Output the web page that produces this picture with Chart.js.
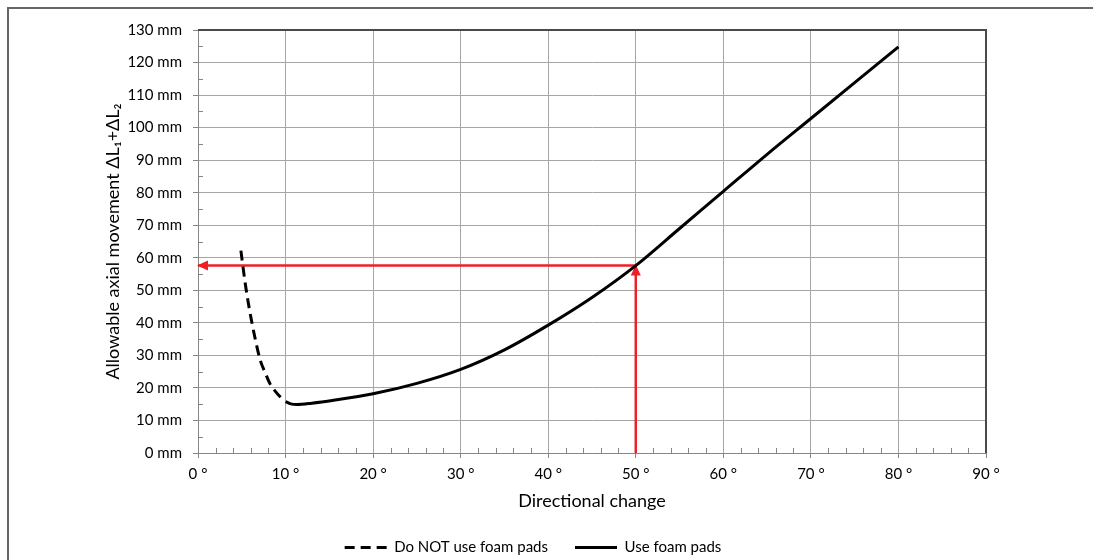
<!DOCTYPE html>
<html>
<head>
<meta charset="utf-8">
<title>Allowable axial movement</title>
<script src="https://cdn.jsdelivr.net/npm/chart.js@4.4.1/dist/chart.umd.min.js"></script>
<style>
  html, body { margin: 0; padding: 0; background: #fff; }
</style>
</head>
<body>
<canvas id="chart" width="1093" height="560"></canvas>
<script>
// Directional change (deg) against allowable axial movement (mm)
const noPadDeg = [4.9, 5.4, 5.95, 6.5, 7.1, 7.7, 8.2, 9.0, 9.75];
const noPadMm  = [62.2, 52, 43, 35.5, 28.6, 24.5, 21.4, 18.4, 16.3];

const padDeg = [10, 10.6, 11.3, 13, 15.5, 20, 25, 30, 35, 40, 45, 50, 55, 60, 65, 70, 75, 80];
const padMm  = [15.8, 15.1, 14.9, 15.3, 16.2, 18.2, 21.4, 25.7, 31.7, 39.3, 47.8, 57.6, 69.0, 80.4, 91.8, 102.8, 113.8, 124.8];

// worked example: 50 deg reads off 57.6 mm
const readDeg = 50;
const readMm = 57.6;

const seriesNames = ['Do NOT use foam pads', 'Use foam pads'];
const xRange = [0, 90];
const yRange = [0, 130];
const degUnit = ' °';
const mmUnit = ' mm';

const FONT = "Lato, 'DejaVu Sans', sans-serif";
const RED = '#ec2027';

const toPoints = (xs, ys) => xs.map((x, i) => ({ x: x, y: ys[i] }));

// small inward ticks: every 2 deg on x, every 5 mm on y
const minorTicks = {
    id: 'minorTicks',
    beforeDatasetsDraw(chart) {
        const { ctx, chartArea: a, scales: { x, y } } = chart;
        ctx.save();
        ctx.strokeStyle = '#868686';
        ctx.lineWidth = 1;
        ctx.beginPath();
        for (let v = xRange[0] + 2; v < xRange[1]; v += 2) {
            if (v % 10 === 0) continue;
            const px = Math.round(x.getPixelForValue(v)) + 0.5;
            ctx.moveTo(px, a.bottom);
            ctx.lineTo(px, a.bottom - 5);
        }
        for (let v = yRange[0] + 5; v < yRange[1]; v += 10) {
            const py = Math.round(y.getPixelForValue(v)) + 0.5;
            ctx.moveTo(a.left, py);
            ctx.lineTo(a.left + 5, py);
        }
        ctx.stroke();
        ctx.restore();
    }
};

// arrow head at the last point of datasets flagged with arrow: true
const arrowHeads = {
    id: 'arrowHeads',
    afterDatasetDraw(chart, args) {
        const ds = chart.data.datasets[args.index];
        if (!ds.arrow) return;
        const pts = args.meta.data;
        const tip = pts[pts.length - 1];
        const from = pts[pts.length - 2];
        const ang = Math.atan2(tip.y - from.y, tip.x - from.x);
        const ctx = chart.ctx;
        ctx.save();
        ctx.translate(tip.x, tip.y);
        ctx.rotate(ang);
        ctx.beginPath();
        ctx.moveTo(1, 0);
        ctx.lineTo(-10, -5);
        ctx.lineTo(-10, 5);
        ctx.closePath();
        ctx.fillStyle = ds.borderColor;
        ctx.fill();
        ctx.restore();
    }
};

// plot frame (top/right) and the outer box edges
const frame = {
    id: 'frame',
    afterDraw(chart) {
        const { ctx, chartArea: a } = chart;
        ctx.save();
        ctx.lineWidth = 2;
        ctx.strokeStyle = '#4a4a4a';
        ctx.beginPath();
        ctx.moveTo(a.left, a.top);
        ctx.lineTo(a.right, a.top);
        ctx.lineTo(a.right, a.bottom);
        ctx.stroke();
        ctx.strokeStyle = '#666';
        ctx.beginPath();
        ctx.moveTo(8, chart.height);
        ctx.lineTo(8, 8);
        ctx.lineTo(chart.width, 8);
        ctx.stroke();
        ctx.restore();
    }
};

// legend samples take the dash pattern of their line
const legendLabels = chart => {
    const items = Chart.defaults.plugins.legend.labels.generateLabels(chart);
    items.forEach(item => {
        item.lineDash = chart.data.datasets[item.datasetIndex].borderDash || [];
    });
    return items;
};

new Chart(document.getElementById('chart'), {
    type: 'line',
    data: {
        datasets: [{
            label: seriesNames[0],
            data: toPoints(noPadDeg, noPadMm),
            borderColor: '#000',
            borderWidth: 3,
            borderDash: [10, 6],
            pointRadius: 0,
            cubicInterpolationMode: 'monotone',
            fill: false
        }, {
            label: seriesNames[1],
            data: toPoints(padDeg, padMm),
            borderColor: '#000',
            borderWidth: 3,
            pointRadius: 0,
            cubicInterpolationMode: 'monotone',
            fill: false
        }, {
            label: 'read-across',
            data: [{ x: readDeg, y: readMm }, { x: xRange[0], y: readMm }],
            borderColor: RED,
            borderWidth: 2.5,
            pointRadius: 0,
            tension: 0,
            arrow: true
        }, {
            label: 'read-up',
            data: [{ x: readDeg, y: yRange[0] }, { x: readDeg, y: readMm }],
            borderColor: RED,
            borderWidth: 2.5,
            pointRadius: 0,
            tension: 0,
            arrow: true
        }]
    },
    options: {
        responsive: false,
        animation: false,
        layout: { padding: { left: 0, right: 27, top: 30, bottom: 0 } },
        plugins: {
            tooltip: { enabled: false },
            legend: {
                position: 'bottom',
                maxHeight: 47,
                labels: {
                    generateLabels: legendLabels,
                    filter: item => item.datasetIndex < 2,
                    usePointStyle: true,
                    pointStyle: 'line',
                    pointStyleWidth: 42,
                    padding: 27,
                    color: '#000',
                    font: { family: FONT, size: 15 }
                }
            }
        },
        scales: {
            x: {
                type: 'linear',
                min: xRange[0], max: xRange[1],
                afterFit: s => { s.height = 60; },
                ticks: {
                    stepSize: 10,
                    padding: 7,
                    color: '#000',
                    font: { family: FONT, size: 15 },
                    callback: v => v + degUnit
                },
                grid: { color: '#a6a6a6', tickColor: '#868686', tickLength: 5 },
                border: { color: '#868686', width: 1 },
                title: {
                    display: true,
                    text: 'Directional change',
                    color: '#000',
                    font: { family: FONT, size: 18 },
                    padding: { top: 0, bottom: 1 }
                }
            },
            y: {
                min: yRange[0], max: yRange[1],
                afterFit: s => { s.width = 198; },
                ticks: {
                    stepSize: 10,
                    padding: 11,
                    color: '#000',
                    font: { family: FONT, size: 15 },
                    callback: v => v + mmUnit
                },
                grid: { color: '#a6a6a6', tickColor: '#868686', tickLength: 5 },
                border: { color: '#868686', width: 1 },
                title: {
                    display: true,
                    text: 'Allowable axial movement ΔL₁+ΔL₂',
                    color: '#000',
                    font: { family: FONT, size: 18 },
                    padding: { top: 102, bottom: 0 }
                }
            },
            // empty right-hand strip so the plot ends where the frame does
            yPad: {
                position: 'right',
                afterFit: s => { s.width = 80; },
                ticks: { display: false },
                grid: { display: false },
                border: { display: false }
            }
        }
    },
    plugins: [minorTicks, arrowHeads, frame]
});
</script>
</body>
</html>
